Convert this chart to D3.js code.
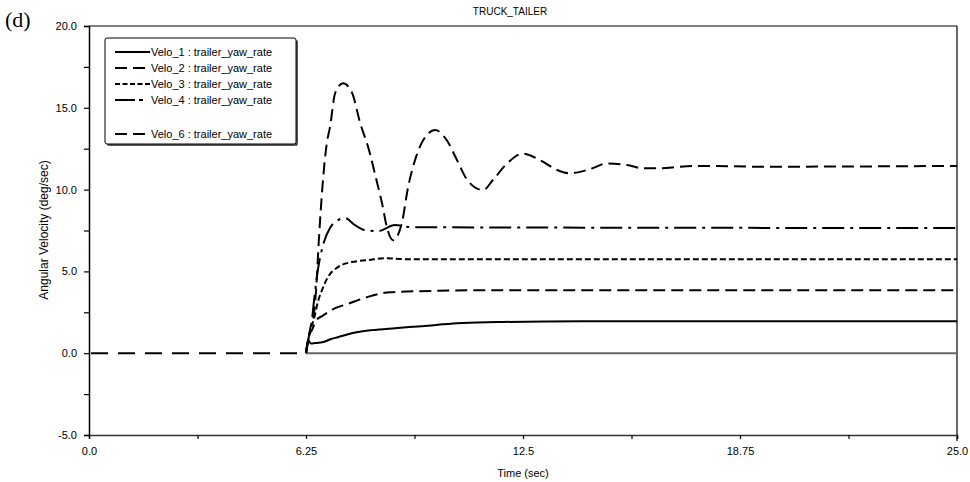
<!DOCTYPE html>
<html>
<head>
<meta charset="utf-8">
<script src="https://cdn.jsdelivr.net/npm/d3@7/dist/d3.min.js"></script>
<style>
  html, body { margin: 0; padding: 0; background: #fff; }
  svg { display: block; }
  text { fill: #000; }
</style>
</head>
<body>
<svg id="chart" width="970" height="482" font-family="Liberation Sans, Arial, sans-serif"></svg>
<script>
// ---------------- data ----------------
const chartTitle = "TRUCK_TAILER";
const panelLabel = "(d)";
const xLabel = "Time (sec)";
const yLabel = "Angular Velocity (deg/sec)";

const xTickValues = [0, 3.125, 6.25, 9.375, 12.5, 15.625, 18.75, 21.875, 25];
const xTickLabels = ["0.0", "", "6.25", "", "12.5", "", "18.75", "", "25.0"];
const yTickValues = [-5, -2.5, 0, 2.5, 5, 7.5, 10, 12.5, 15, 17.5, 20];
const yTickLabels = ["-5.0", "", "0.0", "", "5.0", "", "10.0", "", "15.0", "", "20.0"];

const seriesNames = ["Velo_1 : trailer_yaw_rate", "Velo_2 : trailer_yaw_rate",
  "Velo_3 : trailer_yaw_rate", "Velo_4 : trailer_yaw_rate", "", "Velo_6 : trailer_yaw_rate"];

// pre-event baseline (all runs are zero before the manoeuvre)
const baseTime = [0, 6.25];
const baseValue = [0, 0];
// zero reference after the event
const zeroTime = [6.25, 25];
const zeroValue = [0, 0];

const time1 = [6.25, 6.31, 6.39, 6.51, 6.75, 6.95, 7.17, 7.57, 8.15, 8.81, 9.59, 10.6, 11.75, 14.23, 25];
const velo1 = [0, 0.8, 0.6, 0.62, 0.68, 0.85, 0.98, 1.22, 1.41, 1.53, 1.65, 1.83, 1.9, 1.96, 1.96];

const time2 = [6.25, 6.34, 6.42, 6.54, 6.74, 7.09, 7.43, 8.0, 8.67, 9.53, 11.26, 25];
const velo2 = [0, 1.1, 1.4, 2.0, 2.3, 2.75, 3.0, 3.42, 3.73, 3.79, 3.85, 3.85];

const time3 = [6.25, 6.37, 6.48, 6.6, 6.71, 6.88, 7.17, 7.57, 8.04, 8.53, 9.1, 25];
const velo3 = [0, 1.4, 2.1, 3.2, 3.85, 4.65, 5.26, 5.57, 5.69, 5.81, 5.75, 5.75];

const time4 = [6.25, 6.34, 6.39, 6.48, 6.6, 6.74, 6.94, 7.17, 7.37, 7.66, 7.95, 8.32, 8.81, 9.3, 25];
const velo4 = [0, 1.1, 1.5, 3.2, 5.2, 6.6, 7.65, 8.13, 8.26, 7.83, 7.52, 7.46, 7.83, 7.7, 7.65];

const time6 = [6.25, 6.34, 6.39, 6.45, 6.54, 6.62, 6.71, 6.85, 6.94, 7.09, 7.32, 7.58, 7.81, 8.04,
  8.3, 8.44, 8.58, 8.76, 9.01, 9.19, 9.39, 9.62, 9.97, 10.31, 10.6, 10.89, 11.35, 11.64, 12.04,
  12.5, 12.99, 13.48, 13.85, 14.43, 14.92, 15.5, 15.96, 16.45, 17.02, 17.6, 19.33, 25];
const velo6 = [0, 1.1, 1.7, 2.0, 3.85, 6.9, 9.8, 12.85, 13.8, 15.9, 16.5, 15.9, 14.07, 12.6,
  10.4, 9.17, 7.7, 6.9, 7.95, 10.15, 11.8, 13.0, 13.64, 13.0, 11.8, 10.6, 9.97, 10.6, 11.6,
  12.2, 11.8, 11.2, 11.0, 11.25, 11.6, 11.5, 11.3, 11.3, 11.4, 11.45, 11.4, 11.45];

// ---------------- drawing ----------------
const svg = d3.select("#chart");
const X0 = 89, X1 = 957, Y0 = 26, Y1 = 435;

const x = d3.scaleLinear().domain([0, 25]).range([X0, X1]);
const y = d3.scaleLinear().domain([-5, 20]).range([Y1, Y0]);

// frame (top and right)
svg.append("line").attr("x1", X0).attr("x2", X1).attr("y1", Y0).attr("y2", Y0)
  .attr("stroke", "#000").attr("stroke-width", 1.2);
svg.append("line").attr("x1", X1).attr("x2", X1).attr("y1", Y0).attr("y2", Y1 + 6)
  .attr("stroke", "#000").attr("stroke-width", 1.2);

// axes
const yAxis = d3.axisLeft(y).tickValues(yTickValues).tickSize(5).tickPadding(7)
  .tickFormat((d, i) => yTickLabels[i]);
const gy = svg.append("g").attr("transform", `translate(${X0},0)`).call(yAxis);
gy.select(".domain").attr("stroke", "#000").attr("stroke-width", 1.5);
gy.selectAll(".tick line").attr("stroke", "#000").attr("stroke-width", 1.2);
gy.selectAll(".tick text").attr("font-size", 11).attr("font-family", "Liberation Sans, Arial, sans-serif").attr("fill", "#000");

const xAxis = d3.axisBottom(x).tickValues(xTickValues).tickSize(4).tickPadding(8)
  .tickFormat((d, i) => xTickLabels[i]);
const gx = svg.append("g").attr("transform", `translate(0,${Y1})`).call(xAxis);
gx.select(".domain").attr("stroke", "#333").attr("stroke-width", 1.5);
gx.selectAll(".tick line").attr("stroke", "#000").attr("stroke-width", 1.2);
gx.selectAll(".tick text").attr("font-size", 11).attr("font-family", "Liberation Sans, Arial, sans-serif").attr("fill", "#000");

// titles
svg.append("text").attr("x", 510).attr("y", 15).attr("text-anchor", "middle")
  .attr("font-size", 10).text(chartTitle);
svg.append("text").attr("x", 5).attr("y", 27).attr("font-size", 22)
  .style("font-family", "'Liberation Serif', 'DejaVu Serif', 'Times New Roman', serif").text(panelLabel);
svg.append("text").attr("x", 523).attr("y", 477).attr("text-anchor", "middle")
  .attr("font-size", 11).text(xLabel);
svg.append("text").attr("transform", "translate(48,230) rotate(-90)").attr("text-anchor", "middle")
  .attr("font-size", 12).text(yLabel);

// clip
svg.append("clipPath").attr("id", "plotclip").append("rect")
  .attr("x", X0).attr("y", Y0).attr("width", X1 - X0).attr("height", Y1 - Y0);
const plot = svg.append("g").attr("clip-path", "url(#plotclip)");

const line = d3.line().x(d => x(d[0])).y(d => y(d[1])).curve(d3.curveMonotoneX);
const zip = (t, v) => t.map((tt, i) => [tt, v[i]]);

plot.append("path").datum(zip(zeroTime, zeroValue)).attr("d", line)
  .attr("fill", "none").attr("stroke", "#666").attr("stroke-width", 2);
plot.append("path").datum(zip(baseTime, baseValue)).attr("d", line)
  .attr("fill", "none").attr("stroke", "#000").attr("stroke-width", 2)
  .attr("stroke-dasharray", "17,10").attr("stroke-dashoffset", -2);

const styles = [
  { t: time1, v: velo1, dash: null },
  { t: time2, v: velo2, dash: "12,6" },
  { t: time3, v: velo3, dash: "6,3" },
  { t: time4, v: velo4, dash: "22,6,3,6" },
  null,
  { t: time6, v: velo6, dash: "12,6" }
];

styles.forEach(s => {
  if (!s) return;
  const p = plot.append("path").datum(zip(s.t, s.v)).attr("d", line)
    .attr("fill", "none").attr("stroke", "#000").attr("stroke-width", 2)
    .attr("stroke-linejoin", "round");
  if (s.dash) p.attr("stroke-dasharray", s.dash);
});

// legend
const lg = svg.append("g");
lg.append("rect").attr("x", 107).attr("y", 40).attr("width", 191).attr("height", 106)
  .attr("rx", 2).attr("fill", "#555");
lg.append("rect").attr("x", 105).attr("y", 38).attr("width", 191).attr("height", 106)
  .attr("rx", 2).attr("fill", "#fff").attr("stroke", "#000").attr("stroke-width", 1);
const rowsY = [52, 68, 84, 100, 117, 134];
const legendDash = [null, "12,6", "5,2.5", "20,4,4,8", null, "12,6"];
seriesNames.forEach((name, i) => {
  if (!name) return;
  const ly = rowsY[i];
  const l = lg.append("line").attr("x1", 115).attr("x2", 150).attr("y1", ly).attr("y2", ly)
    .attr("stroke", "#000").attr("stroke-width", 2);
  if (legendDash[i]) l.attr("stroke-dasharray", legendDash[i]);
  lg.append("text").attr("x", 151).attr("y", ly + 4).attr("font-size", 11).text(name);
});
</script>
</body>
</html>
